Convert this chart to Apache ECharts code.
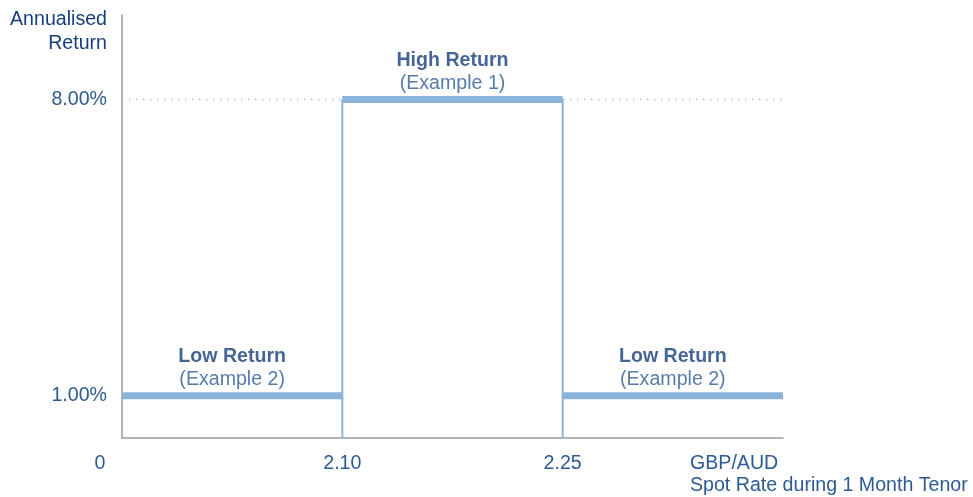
<!DOCTYPE html>
<html><head><meta charset="utf-8">
<script src="https://cdn.jsdelivr.net/npm/echarts@6/dist/echarts.min.js"></script>
<style>html,body{margin:0;padding:0;background:#fff}#c{width:973px;height:497px}</style>
</head><body><div id="c"></div>
<script>
// x positions are ordinal slots: 0 -> "0", 1 -> "2.10", 2 -> "2.25", 3 -> end of range
var xTickLabels = ['0', '2.10', '2.25', ''];
var yTickValues = [1, 8];
var segments = [
  {name: 'Low Return', sub: '(Example 2)', from: 0, to: 1, value: 1},
  {name: 'High Return', sub: '(Example 1)', from: 1, to: 2, value: 8},
  {name: 'Low Return', sub: '(Example 2)', from: 2, to: 3, value: 1}
];
var boundaries = [1, 2];
var highValue = 8;

var blue = '#8ab3d9';
var txt = '#2c5a94';
var dark = '#163f7c';
var font = 'Liberation Sans, Arial, sans-serif';
var fs = 19.6;

var series = [];
series.push({
  type: 'line', silent: true, symbol: 'none', z: 1,
  data: [[0, highValue], [3, highValue]],
  lineStyle: {color: '#a9c4df', width: 1.5, type: [1.5, 5.5]}
});
boundaries.forEach(function (b) {
  series.push({
    type: 'line', silent: true, symbol: 'none', z: 2,
    data: [[b, 0], [b, highValue]],
    lineStyle: {color: blue, width: 2}
  });
});
segments.forEach(function (s) {
  series.push({
    type: 'line', silent: true, symbol: 'none', z: 3,
    data: [[s.from, s.value], [s.to, s.value]],
    lineStyle: {color: blue, width: 7, cap: 'butt'}
  });
  series.push({
    type: 'scatter', silent: true, symbolSize: 0, z: 4,
    data: [[(s.from + s.to) / 2, s.value]],
    label: {
      show: true, position: 'top', distance: 5,
      formatter: '{b|' + s.name + '}\n{n|' + s.sub + '}',
      rich: {
        b: {fontFamily: font, fontSize: fs, fontWeight: 'bold', color: dark, lineHeight: 23, align: 'center'},
        n: {fontFamily: font, fontSize: fs, color: txt, lineHeight: 23, align: 'center'}
      }
    }
  });
});

var chart = echarts.init(document.getElementById('c'));
chart.setOption({
  animation: false,
  grid: {left: 122, right: 190, top: 15, bottom: 57, containLabel: false},
  xAxis: {
    type: 'value', min: 0, max: 3, interval: 1,
    axisLine: {show: true, lineStyle: {color: '#9a9a9a', width: 1.5}},
    axisTick: {show: false}, splitLine: {show: false},
    axisLabel: {
      margin: 16, color: txt, fontFamily: font, fontSize: fs,
      showMaxLabel: false,
      formatter: function (v) {
        var l = xTickLabels[Math.round(v)] || '';
        return v === 0 ? '{z|' + l + '}' : l;
      },
      rich: {z: {fontFamily: font, fontSize: fs, color: txt, padding: [0, 44, 0, 0]}}
    },
    name: 'GBP/AUD\nSpot Rate during 1 Month Tenor',
    nameLocation: 'end', nameGap: -93,
    nameTextStyle: {fontFamily: font, fontSize: fs, color: txt, align: 'left', verticalAlign: 'top', lineHeight: 22, padding: [15, 0, 0, 0]}
  },
  yAxis: {
    type: 'value', min: 0, max: 10, interval: 1,
    axisLine: {show: true, lineStyle: {color: '#9a9a9a', width: 1.5}},
    axisTick: {show: false}, splitLine: {show: false},
    axisLabel: {
      margin: 15, color: txt, fontFamily: font, fontSize: fs,
      formatter: function (v) { return yTickValues.indexOf(v) >= 0 ? v.toFixed(2) + '%' : ''; }
    },
    name: 'Annualised\nReturn', nameLocation: 'end', nameGap: 7,
    nameTextStyle: {fontFamily: font, fontSize: fs, color: dark, align: 'right', verticalAlign: 'top', lineHeight: 24, padding: [0, 15, 0, 0]}
  },
  series: series
});
</script></body></html>
